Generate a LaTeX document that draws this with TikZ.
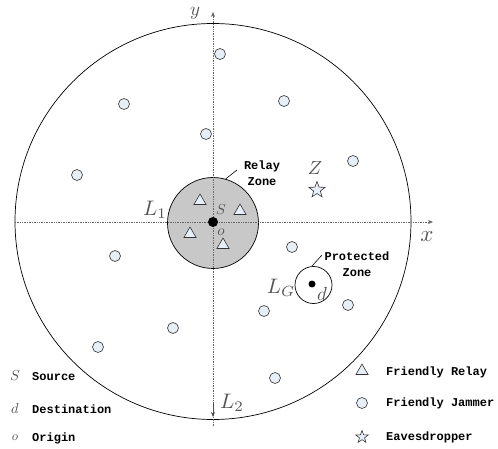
\documentclass[tikz,border=0pt]{standalone}
\usepackage{fontspec}
\newfontfamily\legfont{Liberation Mono}
\usepackage{graphicx}
\usepackage{tikz}
\usetikzlibrary{arrows.meta, positioning, shapes.geometric}
\definecolor{nodefill}{RGB}{230,238,248}
\definecolor{zonefill}{RGB}{200,200,200}
\definecolor{labgray}{RGB}{85,85,85}
\newcommand{\mlab}[2]{\scalebox{#1}{$#2$}}
\tikzset{
  jammer/.style={circle, draw=black!80, fill=nodefill, line width=0.6pt, inner sep=0pt, minimum size=11pt},
  relay/.style={regular polygon, regular polygon sides=3, draw=black!80, fill=nodefill, line width=0.6pt, inner sep=0pt, minimum size=14pt},
  eaves/.style={star, star points=5, star point ratio=2.4, draw=black!80, fill=nodefill, line width=0.6pt, inner sep=0pt, minimum size=#1},
  axis/.style={densely dotted, black!60, line width=0.7pt},
  legtext/.style={font=\legfont\bfseries\fontsize{12}{15}\selectfont, anchor=west, inner sep=0pt},
  mathlab/.style={text=labgray, inner sep=0pt},
}
\begin{document}
\begin{tikzpicture}[x=1pt, y=-1pt]
    \useasboundingbox (0,0) rectangle (498,449);

    % service area and zones
    \node[circle, draw, line width=0.7pt, minimum size=396pt, inner sep=0pt] (area) at (213,221.5) {};
    \node[circle, draw, line width=0.7pt, fill=zonefill, minimum size=91pt, inner sep=0pt] (rz) at (213,223) {};
    \node[circle, draw, line width=0.7pt, minimum size=37pt, inner sep=0pt] (pz) at (313.5,285) {};

    % axes
    \coordinate (xs) at (15,222);
    \coordinate (xe) at (433,222);
    \coordinate (ys) at (213,426);
    \coordinate (ye) at (213,12);
    \draw[axis, -{Stealth[length=5pt, width=4pt]}] (xs) -- (xe);
    \draw[axis, -{Stealth[length=5pt, width=4pt]}] (ys) -- (ye);
    \coordinate (l2a) at (213,404);
    \coordinate (l2b) at (213,417);
    \draw[black!70, line width=0.6pt, -{Stealth[length=5pt, width=4pt]}] (l2a) -- (l2b);
    \node[mathlab] (xlab) at (427,237) {\mlab{2.3}{x}};
    \node[mathlab] (ylab) at (195,13) {\mlab{1.9}{y}};
    \node[mathlab] (L1) at (155,210) {\mlab{2.1}{L_1}};
    \node[mathlab] (L2) at (232,403) {\mlab{2.1}{L_2}};

    % source, destination
    \node[circle, fill=black, inner sep=0pt, minimum size=10pt] (src) at (213,222) {};
    \node[mathlab] (slab) at (221,210) {\mlab{1.45}{S}};
    \node[mathlab] (olab) at (221,232) {\mlab{1.5}{o}};
    \node[circle, fill=black, inner sep=0pt, minimum size=7pt] (dst) at (312,284) {};
    \node[mathlab] (dlab) at (322,294) {\mlab{1.9}{d}};
    \node[mathlab] (LG) at (281,288) {\mlab{2.1}{L_G}};

    % relays
    \node[relay] (r1) at (200,201) {};
    \node[relay] (r2) at (240,211) {};
    \node[relay] (r3) at (190,234) {};
    \node[relay] (r4) at (223,245) {};

    % jammers
    \foreach \px/\py [count=\i] in {220/54, 124/104, 284/101, 206/134, 353/161, 77/175, 115/256,
        292/247, 264/311, 348/305, 173/328, 98/347, 275/378}
      \node[jammer] (j\i) at (\px,\py) {};

    % eavesdropper
    \node[eaves=17pt] (eve) at (317,190) {};
    \node[mathlab] (zlab) at (315,168) {\mlab{1.9}{Z}};

    % zone labels
    \node[legtext, anchor=center, align=center, font=\legfont\bfseries\fontsize{12}{16}\selectfont] (rzlab) at (262,173) {Relay\\Zone};
    \coordinate (rzl) at (237,170);
    \draw[line width=0.6pt] (rz.74) -- (rzl);
    \node[legtext, anchor=center, align=center, font=\legfont\bfseries\fontsize{12}{16}\selectfont] (pzlab) at (357,264) {Protected\\Zone};
    \coordinate (pzl) at (322,255);
    \draw[line width=0.6pt] (pz.95) -- (pzl);

    % legend
    \node[mathlab] (kS) at (15,376) {\mlab{1.45}{S}};
    \node[legtext] (tS) at (32,377) {Source};
    \node[mathlab] (kd) at (15,408) {\mlab{1.45}{d}};
    \node[legtext] (td) at (32,409) {Destination};
    \node[mathlab] (ko) at (15,438) {\mlab{1.3}{o}};
    \node[legtext] (to) at (32,438) {Origin};
    \node[relay] (kr) at (362,371) {};
    \node[legtext] (tr) at (386,372) {Friendly Relay};
    \node[jammer] (kj) at (362,403) {};
    \node[legtext] (tj) at (386,403) {Friendly Jammer};
    \node[eaves=13pt] (ke) at (362,437) {};
    \node[legtext] (te) at (386,437) {Eavesdropper};
\end{tikzpicture}
\end{document}
